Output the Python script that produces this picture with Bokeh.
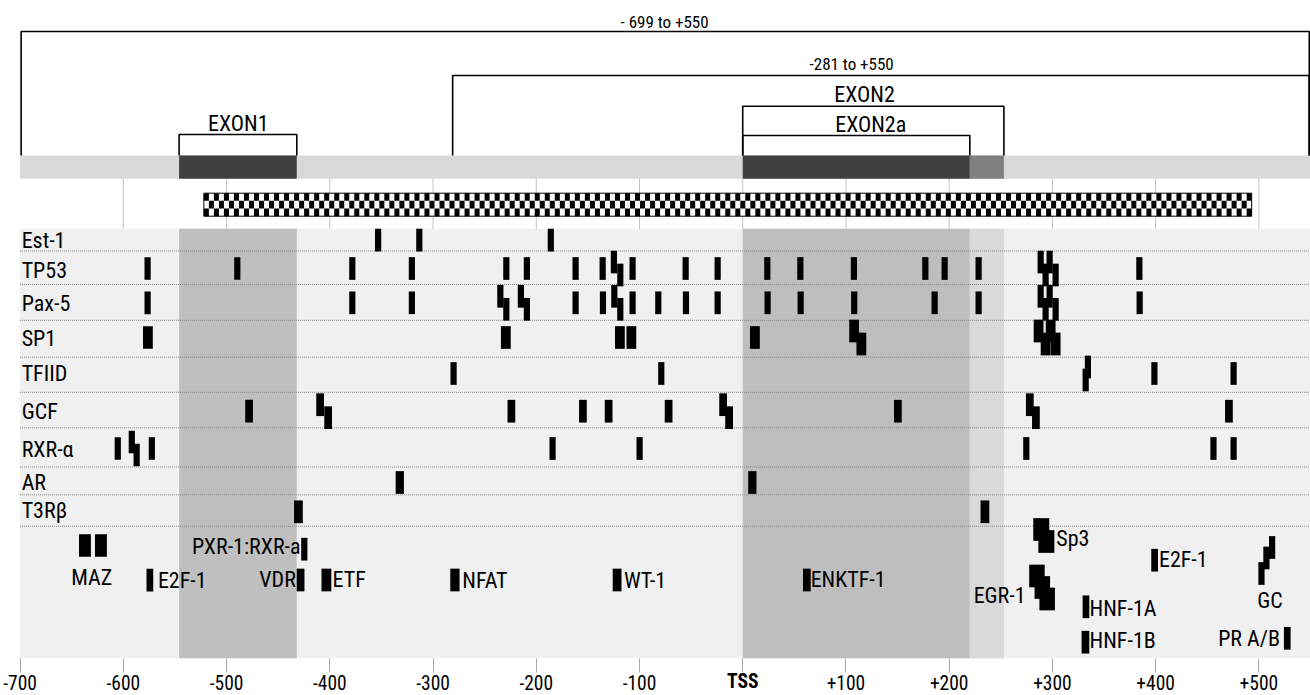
from bokeh.plotting import figure
from bokeh.models import Range1d, FixedTicker
from bokeh.embed import file_html
from bokeh.resources import INLINE
from bokeh.core.properties import value

FONT = ("'Liberation Sans Narrow', 'Arial Narrow', 'Roboto Condensed', 'Noto Sans ExtraCondensed', "
        "'Noto Sans Condensed', 'DejaVu Sans Condensed', sans-serif")

# ------------------------------------------------------------------ data
tick_values = [-700, -600, -500, -400, -300, -200, -100, 0, 100, 200, 300, 400, 500]
tick_labels = ["-700", "-600", "-500", "-400", "-300", "-200", "-100", "TSS",
               "+100", "+200", "+300", "+400", "+500"]

construct_names = ["- 699 to +550", "-281 to +550"]
construct_start = [-699, -281]
construct_end = [550, 550]

exon_names = ["EXON1", "EXON2", "EXON2a"]
exon_start = [-546, 0, 0]
exon_end = [-432, 253, 220]

amplicon_start = -522
amplicon_end = 493

tf_names = ["Est-1", "TP53", "Pax-5", "SP1", "TFIID", "GCF", "RXR-\u03b1", "AR", "T3R\u03b2"]
site_len = [6, 6, 6, 9.5, 6, 7.5, 6, 8, 8.5]

est1_sites = [-353.2, -313.3, -185.9]
est1_overlap = [0, 0, 0]
tp53_sites = [-576.5, -489.6, -378.2, -320.5, -229.0, -209.1, -161.9, -135.7, -124.8, -118.6,
              -106.7, -55.3, -24.3, 23.8, 55.8, 107.7, 176.9, 195.6, 228.5,
              288.6, 293.4, 297.3, 303.1, 384.2]
tp53_overlap = [0, 0, 0, 0, 0, 0, 0, 0, -1, 1,
                0, 0, 0, 0, 0, 0, 0, 0, 0,
                -1, 1, -1, 1, 0]
pax5_sites = [-576.5, -378.2, -320.5, -234.8, -229.0, -214.9, -209.1, -161.9, -135.4, -124.4,
              -118.6, -106.7, -81.8, -55.0, -24.3, 24.1, 56.1, 108.0, 185.9, 228.5,
              288.6, 293.4, 297.3, 303.1, 384.5]
pax5_overlap = [0, 0, 0, -1, 1, -1, 1, 0, 0, -1,
                1, 0, 0, 0, 0, 0, 0, 0, 0, 0,
                -1, 1, -1, 1, 0]
sp1_sites = [-576.2, -229.5, -119.0, -107.9, 11.8, 107.9, 114.9, 286.6, 293.4, 298.3, 303.1]
sp1_overlap = [0, 0, 0, 0, 0, -1, 1, -1, 1, -1, 1]
tfiid_sites = [-280.1, -78.9, 334.4, 332.2, 398.8, 475.5]
tfiid_overlap = [0, 0, -1, 1, 0, 0]
gcf_sites = [-478.2, -409.4, -401.6, -224.1, -154.8, -129.9, -71.8, -19.0, -13.2, 150.3,
             278.1, 284.0, 471.0]
gcf_overlap = [0, -1, 1, 0, 0, 0, 0, -1, 1, 0, -1, 1, 0]
rxr_sites = [-605.4, -591.8, -587.1, -572.4, -184.2, -99.9, 274.7, 456.0, 475.5]
rxr_overlap = [0, -1, 1, 0, 0, 0, 0, 0, 0]
ar_sites = [-332.2, 9.3]
ar_overlap = [0, 0]
t3r_sites = [-430.4, 234.6]
t3r_overlap = [0, 0]

tf_sites = [est1_sites, tp53_sites, pax5_sites, sp1_sites, tfiid_sites,
            gcf_sites, rxr_sites, ar_sites, t3r_sites]
tf_overlap = [est1_overlap, tp53_overlap, pax5_overlap, sp1_overlap, tfiid_overlap,
              gcf_overlap, rxr_overlap, ar_overlap, t3r_overlap]

extra_names = ["MAZ", "E2F-1", "PXR-1:RXR-a", "VDR", "ETF", "NFAT", "WT-1", "ENKTF-1",
               "Sp3", "E2F-1", "EGR-1", "HNF-1A", "HNF-1B", "GC", "PR A/B"]
extra_sites = [[-637.2, -621.7], [-574.3], [-424.7], [-428.3], [-403.3], [-278.8], [-121.7],
               [62.1], [289.2, 294.1], [399.0], [285.0, 290.2, 294.9], [332.5], [332.0],
               [502.5, 507.3, 512.8], [527.5]]
extra_len = [11.5, 6.5, 6, 7.5, 9.5, 9, 8.5, 7.5, 15.5, 6.5, 15, 6.5, 7.5, 6, 6.5]

# ------------------------------------------------------------------ layout (vertical: page pixels)
W, H = 1310, 695
X_LEFT, XMIN, XMAX = -719, -700, 550
BAR_TOP, BAR_BOT = 155, 178.3
TRACK_TOP, TRACK_BOT = 228.3, 657.7
CHECK_TOP, CHECK_BOT = 192.7, 215.7
CONSTRUCT_Y = [31, 75]
CONSTRUCT_LABEL = [(-75.7, 21.5), (105.5, 63.7)]
EXON_Y = [134, 105.7, 135]
EXON_LABEL = [(-488.7, 122.5), (118.0, 93.5), (124.0, 124.0)]
ROW_BOTTOM = [250.5, 284.0, 319.8, 356.7, 391.8, 427.3, 466.5, 494.3, 525.7]
ROW_MARK_Y = [239.7, 268.0, 302.3, 337.0, 373.0, 410.7, 448.0, 482.0, 511.3]
ROW_LABEL_Y = [240, 270, 303, 338, 373, 411, 449, 482, 510]
MARK_H = 22.7
STEP = 6.5
EXTRA_MARK_Y = [[545, 545], [579.7], [548.7], [579.5], [579.5], [579.5], [579.5], [579.5],
                [529, 541], [559.7], [575.5, 587, 598.5], [606.3], [641.7],
                [573, 557.5, 547], [637.8]]
EXTRA_LABEL = [(-630.7, 577, "center"), (-566.5, 580, "left"), (-428.3, 546, "right"),
               (-432.9, 579, "right"), (-397.3, 579, "left"), (-271.6, 580, "left"),
               (-115.1, 580, "left"), (65.8, 579, "left"), (303.8, 538, "left"),
               (403.2, 559, "left"), (274.0, 595, "right"), (336.0, 608, "left"),
               (336.0, 640, "left"), (510.7, 600, "center"), (520.4, 638, "right")]
TICK_OUT = 14
LABEL_STANDOFF = 3
LABEL_Y = 680.5
LABEL_SIZE = "19.5px"
TEXT_SIZE = "22px"
TITLE_SIZE = "17px"

p = figure(width=W, height=H, x_range=Range1d(X_LEFT, XMAX), y_range=Range1d(H, 0),
           output_backend="svg", toolbar_location=None, y_axis_location=None,
           min_border_left=0, min_border_right=0, min_border_top=0, min_border_bottom=0,
           background_fill_color="white", border_fill_color="white", outline_line_color=None)
p.xgrid.visible = False
p.ygrid.visible = False

# track background and shaded exon columns
p.quad(left=[XMIN], right=[XMAX], top=[TRACK_TOP], bottom=[TRACK_BOT],
       fill_color="#f0f0f0", line_color=None)
p.quad(left=[exon_start[0], exon_start[2], exon_end[2]],
       right=[exon_end[0], exon_end[2], exon_end[1]],
       top=[TRACK_TOP] * 3, bottom=[TRACK_BOT] * 3,
       fill_color=["#bfbfbf", "#bebebe", "#d9d9d9"], line_color=None)

# dotted row separators
p.segment(x0=[XMIN] * len(ROW_BOTTOM), x1=[XMAX] * len(ROW_BOTTOM), y0=ROW_BOTTOM, y1=ROW_BOTTOM,
          line_color="#808080", line_width=1, line_dash="1 1")

# light grid in the white band
grid_x = [t for t in tick_values if t > XMIN]
p.segment(x0=grid_x, x1=grid_x, y0=[BAR_BOT] * len(grid_x), y1=[TRACK_TOP] * len(grid_x),
          line_color="#c4c4c4", line_width=1)

# checkered amplicon bar
n_cols, n_rows = 209, 3
cw = (amplicon_end - amplicon_start) / n_cols
ch = (CHECK_BOT - CHECK_TOP) / n_rows
p.quad(left=[amplicon_start], right=[amplicon_end], top=[CHECK_TOP], bottom=[CHECK_BOT],
       fill_color="white", line_color=None)
cl, cr, ct, cb = [], [], [], []
for r in range(n_rows):
    for c in range(n_cols):
        if (r + c) % 2 == 0:
            cl.append(amplicon_start + c * cw)
            cr.append(amplicon_start + (c + 1) * cw)
            ct.append(CHECK_TOP + r * ch)
            cb.append(CHECK_TOP + (r + 1) * ch)
p.quad(left=cl, right=cr, top=ct, bottom=cb, fill_color="black", line_color=None)
p.quad(left=[amplicon_start], right=[amplicon_end], top=[CHECK_TOP], bottom=[CHECK_BOT],
       fill_color=None, line_color="black", line_width=1)

# gene bar with exons
p.quad(left=[XMIN], right=[XMAX], top=[BAR_TOP], bottom=[BAR_BOT], fill_color="#d9d9d9",
       line_color=None)
p.quad(left=[exon_start[0], exon_start[2], exon_end[2]],
       right=[exon_end[0], exon_end[2], exon_end[1]],
       top=[BAR_TOP] * 3, bottom=[BAR_BOT] * 3,
       fill_color=["#404040", "#404040", "#808080"], line_color=None)

# brackets
bx, by = [], []
for s, e, y in zip(construct_start + exon_start, construct_end + exon_end, CONSTRUCT_Y + EXON_Y):
    e = min(e, XMAX - 1.2)
    bx.append([s, s, e, e])
    by.append([BAR_TOP, y, y, BAR_TOP])
p.multi_line(xs=bx, ys=by, line_color="black", line_width=1.6)

# bracket labels
p.text(x=[c[0] for c in CONSTRUCT_LABEL], y=[c[1] for c in CONSTRUCT_LABEL], text=construct_names,
       text_font=value(FONT), text_font_size=TITLE_SIZE, text_align="center",
       text_baseline="middle", text_color="black")
p.text(x=[c[0] for c in EXON_LABEL], y=[c[1] for c in EXON_LABEL], text=exon_names,
       text_font=value(FONT), text_font_size=TEXT_SIZE, text_align="center",
       text_baseline="middle", text_color="black")

# binding sites in tracks
ml, mr, mt, mb = [], [], [], []
for i, (sites, ov) in enumerate(zip(tf_sites, tf_overlap)):
    for s, o in zip(sites, ov):
        yc = ROW_MARK_Y[i] + o * STEP
        ml.append(s - site_len[i] / 2)
        mr.append(s + site_len[i] / 2)
        mt.append(yc - MARK_H / 2)
        mb.append(yc + MARK_H / 2)
for k, sites in enumerate(extra_sites):
    for s, yc in zip(sites, EXTRA_MARK_Y[k]):
        ml.append(s - extra_len[k] / 2)
        mr.append(s + extra_len[k] / 2)
        mt.append(yc - MARK_H / 2)
        mb.append(yc + MARK_H / 2)
p.quad(left=ml, right=mr, top=mt, bottom=mb, fill_color="black", line_color=None)

# row labels
p.text(x=[XMIN + 1.5] * len(tf_names), y=ROW_LABEL_Y, text=tf_names,
       text_font=value(FONT), text_font_size=TEXT_SIZE, text_align="left",
       text_baseline="middle", text_color="black")

# labels for the extra sites
for name, (lx, ly, al) in zip(extra_names, EXTRA_LABEL):
    p.text(x=[lx], y=[ly], text=[name], text_font=value(FONT), text_font_size=TEXT_SIZE,
           text_align=al, text_baseline="middle", text_color="black")

# axis, drawn inside the frame under the tracks
ax = p.xaxis[0]
ax.fixed_location = TRACK_BOT
ax.ticker = FixedTicker(ticks=tick_values)
ax.major_label_overrides = {v: ("" if v == 0 else l) for v, l in zip(tick_values, tick_labels)}
ax.axis_line_color = None
ax.major_tick_line_color = "#a8a8a8"
ax.major_tick_out = TICK_OUT
ax.major_tick_in = 0
ax.minor_tick_line_color = None
ax.major_label_standoff = LABEL_STANDOFF
ax.major_label_text_font = FONT
ax.major_label_text_font_size = LABEL_SIZE
ax.major_label_text_color = "black"

# bold TSS tick label
p.text(x=[0], y=[LABEL_Y], text=[tick_labels[tick_values.index(0)]],
       text_font=value(FONT), text_font_size=LABEL_SIZE, text_font_style="bold",
       text_align="center", text_baseline="middle", text_color="black")

open("out.html", "w").write(file_html(p, INLINE))
